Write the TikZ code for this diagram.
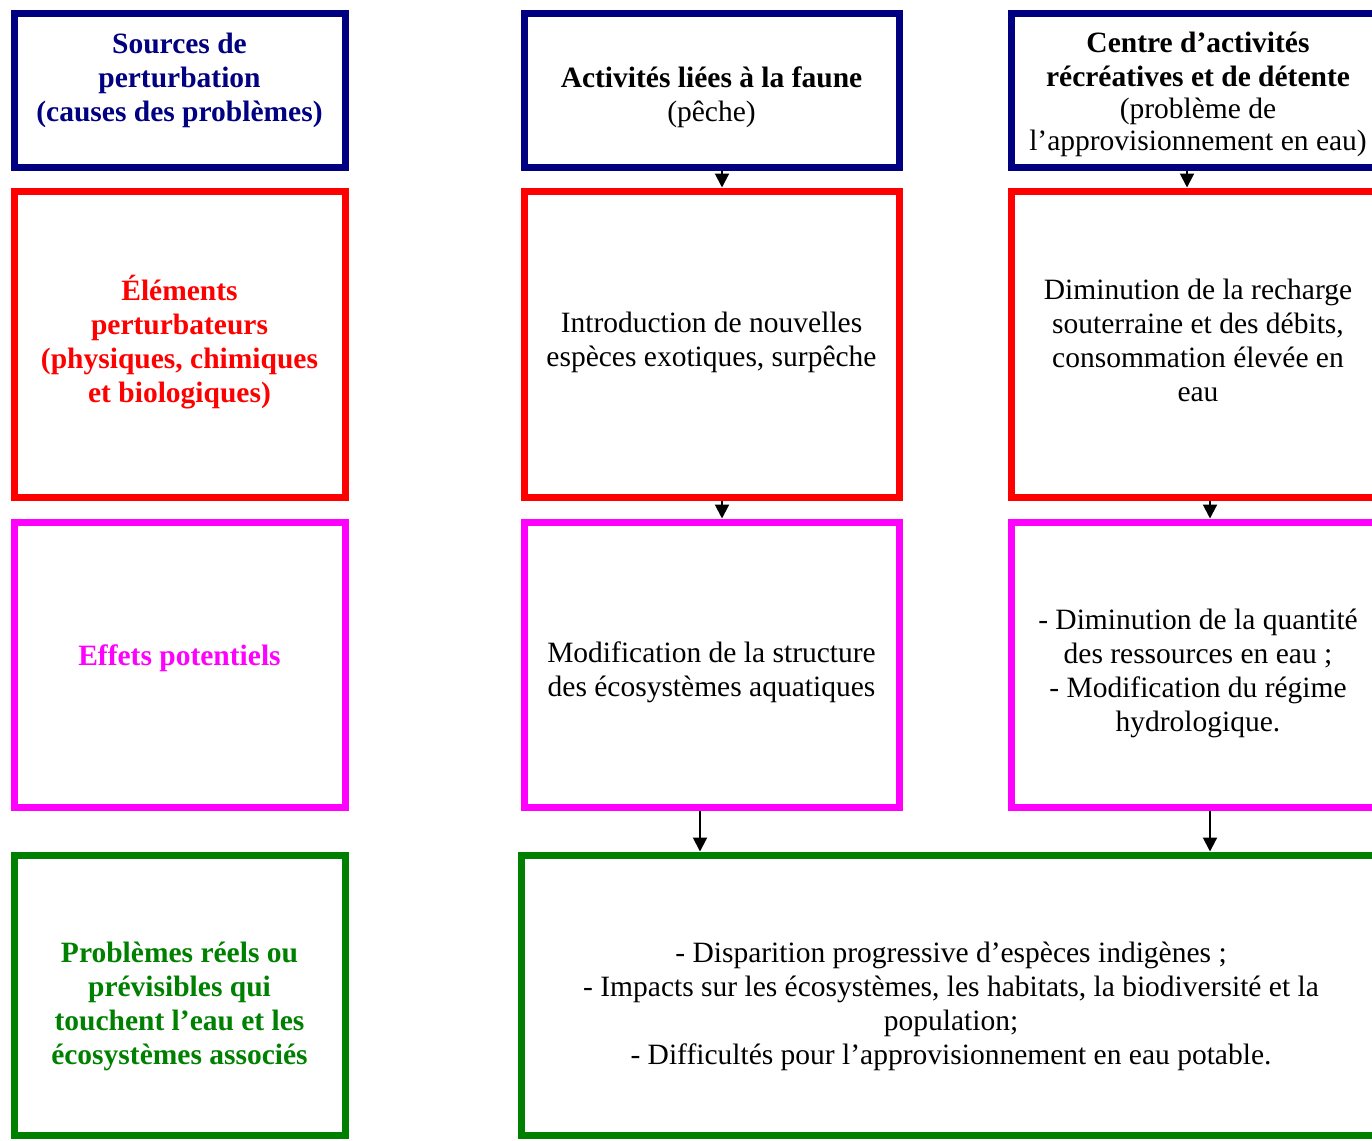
\documentclass[tikz,border=0pt]{standalone}
\usepackage{fontspec}
\setmainfont{Liberation Serif}
\usetikzlibrary{arrows.meta}
\definecolor{srcblue}{RGB}{0,0,128}
\definecolor{elmred}{RGB}{255,0,0}
\definecolor{effmag}{RGB}{255,0,255}
\definecolor{probgreen}{RGB}{0,128,0}

\begin{document}
\begin{tikzpicture}[x=1pt,y=-1pt,
    box/.style={draw,line width=7pt,outer sep=3.5pt,inner sep=0pt},
    txt/.style={inner sep=0pt,align=center,font=\fontsize{29.5}{34}\selectfont},
    head/.style={txt,font=\fontsize{29.5}{34}\selectfont\bfseries},
    arr/.style={line width=2pt,-{Triangle[width=14pt,length=14pt]}}]
\useasboundingbox (0,0) rectangle (1372,1140);
% left column: the four levels
\foreach \n/\yc/\h/\ty/\clr/\txt in {
    src/90.5/153/80.5/srcblue/{Sources de\\perturbation\\(causes des problèmes)},
    elm/344/306/342.5/elmred/{Éléments\\perturbateurs\\(physiques, chimiques\\et biologiques)},
    eff/664.5/285/658.5/effmag/{Effets potentiels},
    pbl/995/280/1006.5/probgreen/{Problèmes réels ou\\prévisibles qui\\touchent l'eau et les\\écosystèmes associés}}{
    \node[box,draw=\clr,minimum width=331pt,minimum height=\h pt] (\n) at (179.5,\yc) {};
    \node[head,text=\clr] (\n-t) at (179.5,\ty) {\txt};
}
% fauna column
\node[box,draw=srcblue,minimum width=375pt,minimum height=153pt] (fau) at (711.5,90.5) {};
\node[txt] (fau-t) at (711.5,97) {\textbf{Activités liées à la faune}\\(pêche)};
\node[box,draw=elmred,minimum width=375pt,minimum height=306pt] (intro) at (711.5,344) {};
\node[txt] (intro-t) at (711.5,342) {Introduction de nouvelles\\espèces exotiques, surpêche};
\node[box,draw=effmag,minimum width=375pt,minimum height=285pt] (modif) at (711.5,664.5) {};
\node[txt] (modif-t) at (711.5,672.5) {Modification de la structure\\des écosystèmes aquatiques};
% recreation column
\node[box,draw=srcblue,minimum width=374pt,minimum height=153pt] (ctr) at (1198,90.5) {};
\node[txt] (ctr-t) at (1198,94) {\textbf{Centre d'activités}\\\textbf{récréatives et de détente}\\[-2pt](problème de\\[-2pt]l'approvisionnement en eau)};
\node[box,draw=elmred,minimum width=374pt,minimum height=306pt] (dimin) at (1198,344) {};
\node[txt] (dimin-t) at (1198,340.5) {Diminution de la recharge\\souterraine et des débits,\\consommation élevée en\\eau};
\node[box,draw=effmag,minimum width=374pt,minimum height=285pt] (quant) at (1198,664.5) {};
\node[txt] (quant-t) at (1198,673.5) {- Diminution de la quantité\\des ressources en eau ;\\- Modification du régime\\hydrologique.};
% common problems
\node[box,draw=probgreen,minimum width=860pt,minimum height=280pt] (prob) at (951,995) {};
\node[txt] (prob-t) at (951,1006.5) {- Disparition progressive d'espèces indigènes ;\\- Impacts sur les écosystèmes, les habitats, la biodiversité et la\\population;\\- Difficultés pour l'approvisionnement en eau potable.};

\draw[arr] ([xshift=10.5pt]fau.south) -- ([xshift=10.5pt]intro.north);
\draw[arr] ([xshift=10.5pt]intro.south) -- ([xshift=10.5pt]modif.north);
\draw[arr] ([xshift=-11.5pt]modif.south) -- ([xshift=-11.5pt]modif.south |- prob.north);
\draw[arr] ([xshift=-11pt]ctr.south) -- ([xshift=-11pt]dimin.north);
\draw[arr] ([xshift=12pt]dimin.south) -- ([xshift=12pt]quant.north);
\draw[arr] ([xshift=12pt]quant.south) -- ([xshift=12pt]quant.south |- prob.north);
\end{tikzpicture}
\end{document}
